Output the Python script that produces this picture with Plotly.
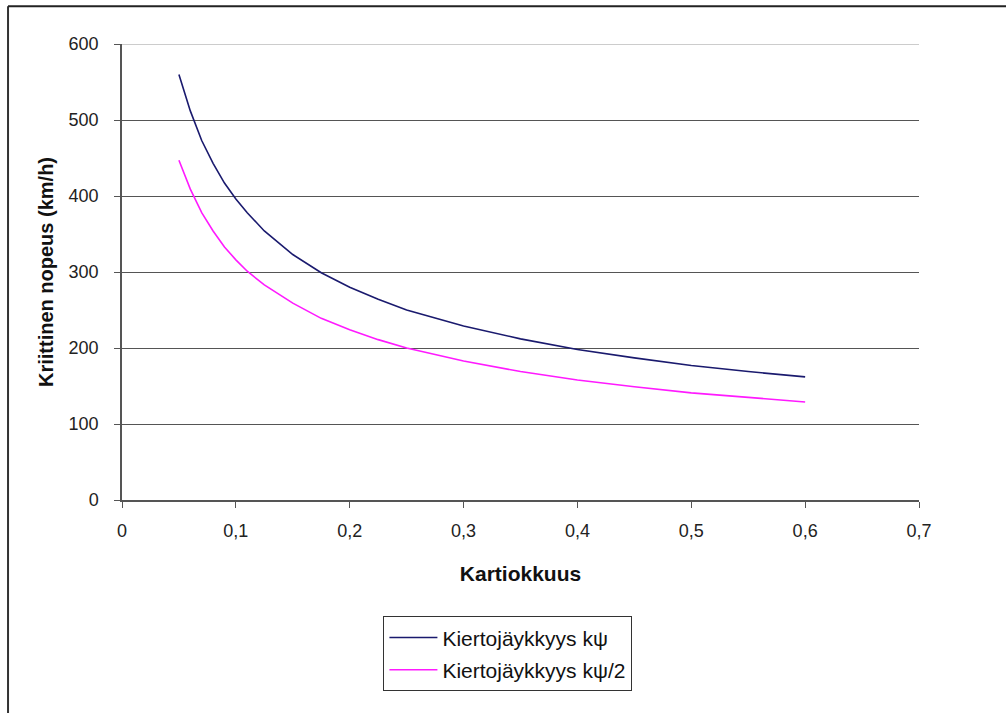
import plotly.graph_objects as go

kartiokkuus = [0.05, 0.06, 0.07, 0.08, 0.09, 0.1, 0.11, 0.125, 0.15, 0.175, 0.2,
               0.225, 0.25, 0.275, 0.3, 0.35, 0.4, 0.45, 0.5, 0.55, 0.6]
nopeus_k = [560, 512, 473, 443, 417, 396, 378, 354, 323, 299, 280,
            264, 250, 239, 229, 212, 198, 187, 177, 169, 162]
nopeus_k2 = [447, 409, 378, 354, 333, 316, 301, 283, 259, 239, 224,
             211, 200, 191, 183, 169, 158, 149, 141, 135, 129]
x_ticks = [0, 0.1, 0.2, 0.3, 0.4, 0.5, 0.6, 0.7]
x_ticktext = ["0", "0,1", "0,2", "0,3", "0,4", "0,5", "0,6", "0,7"]
y_ticks = [0, 100, 200, 300, 400, 500, 600]

FONT = "Liberation Sans, Arial, sans-serif"

fig = go.Figure()
fig.add_trace(go.Scatter(x=kartiokkuus, y=nopeus_k, mode="lines",
                         name="Kiertojäykkyys kψ", legendgroup="a",
                         line=dict(color="#1a1a6e", width=1.6)))
fig.add_trace(go.Scatter(x=kartiokkuus, y=nopeus_k2, mode="lines",
                         name="Kiertojäykkyys kψ/2", legendgroup="b",
                         line=dict(color="#ff1aff", width=1.6)))

fig.update_layout(
    width=1006, height=713,
    margin=dict(l=122, r=87, t=44, b=213),
    paper_bgcolor="white", plot_bgcolor="white",
    font=dict(family=FONT, size=19, color="#222"),
    showlegend=True,
    legend=dict(x=0.328, y=-0.255, xanchor="left", yanchor="top",
                bordercolor="#333", borderwidth=1, bgcolor="white",
                font=dict(size=21, color="#111"), tracegroupgap=2,
                itemwidth=48),
    xaxis=dict(range=[0, 0.7], tickvals=x_ticks, ticktext=x_ticktext,
               showgrid=False, zeroline=False,
               showline=True, linecolor="#555", linewidth=1.5,
               ticks="outside", ticklen=6, tickcolor="#555",
               ticklabelstandoff=8,
               tickfont=dict(size=18, color="#222"),
               title=dict(text="<b>Kartiokkuus</b>", font=dict(size=21, color="#111"),
                          standoff=26)),
    yaxis=dict(range=[0, 600], tickvals=y_ticks,
               showgrid=True, gridcolor="#555", gridwidth=1.2,
               zeroline=False,
               showline=True, linecolor="#555", linewidth=1.5,
               ticks="outside", ticklen=6, tickcolor="#555",
               ticklabelstandoff=12,
               tickfont=dict(size=18, color="#222"),
               title=dict(text="<b>Kriittinen nopeus (km/h)</b>",
                          font=dict(size=20, color="#111"), standoff=10)),
)

# light top gridline at 600
fig.add_shape(type="line", xref="paper", yref="y", x0=0, x1=1, y0=600, y1=600,
              line=dict(color="#cccccc", width=2), layer="above")
# outer chart border (left and top visible)
fig.add_shape(type="line", xref="paper", yref="paper", x0=-0.143, x1=-0.143,
              y0=1.083, y1=-0.47, line=dict(color="#333", width=2))
fig.add_shape(type="line", xref="paper", yref="paper", x0=-0.143, x1=1.11,
              y0=1.083, y1=1.083, line=dict(color="#222", width=2))

fig.write_html("out.html")
